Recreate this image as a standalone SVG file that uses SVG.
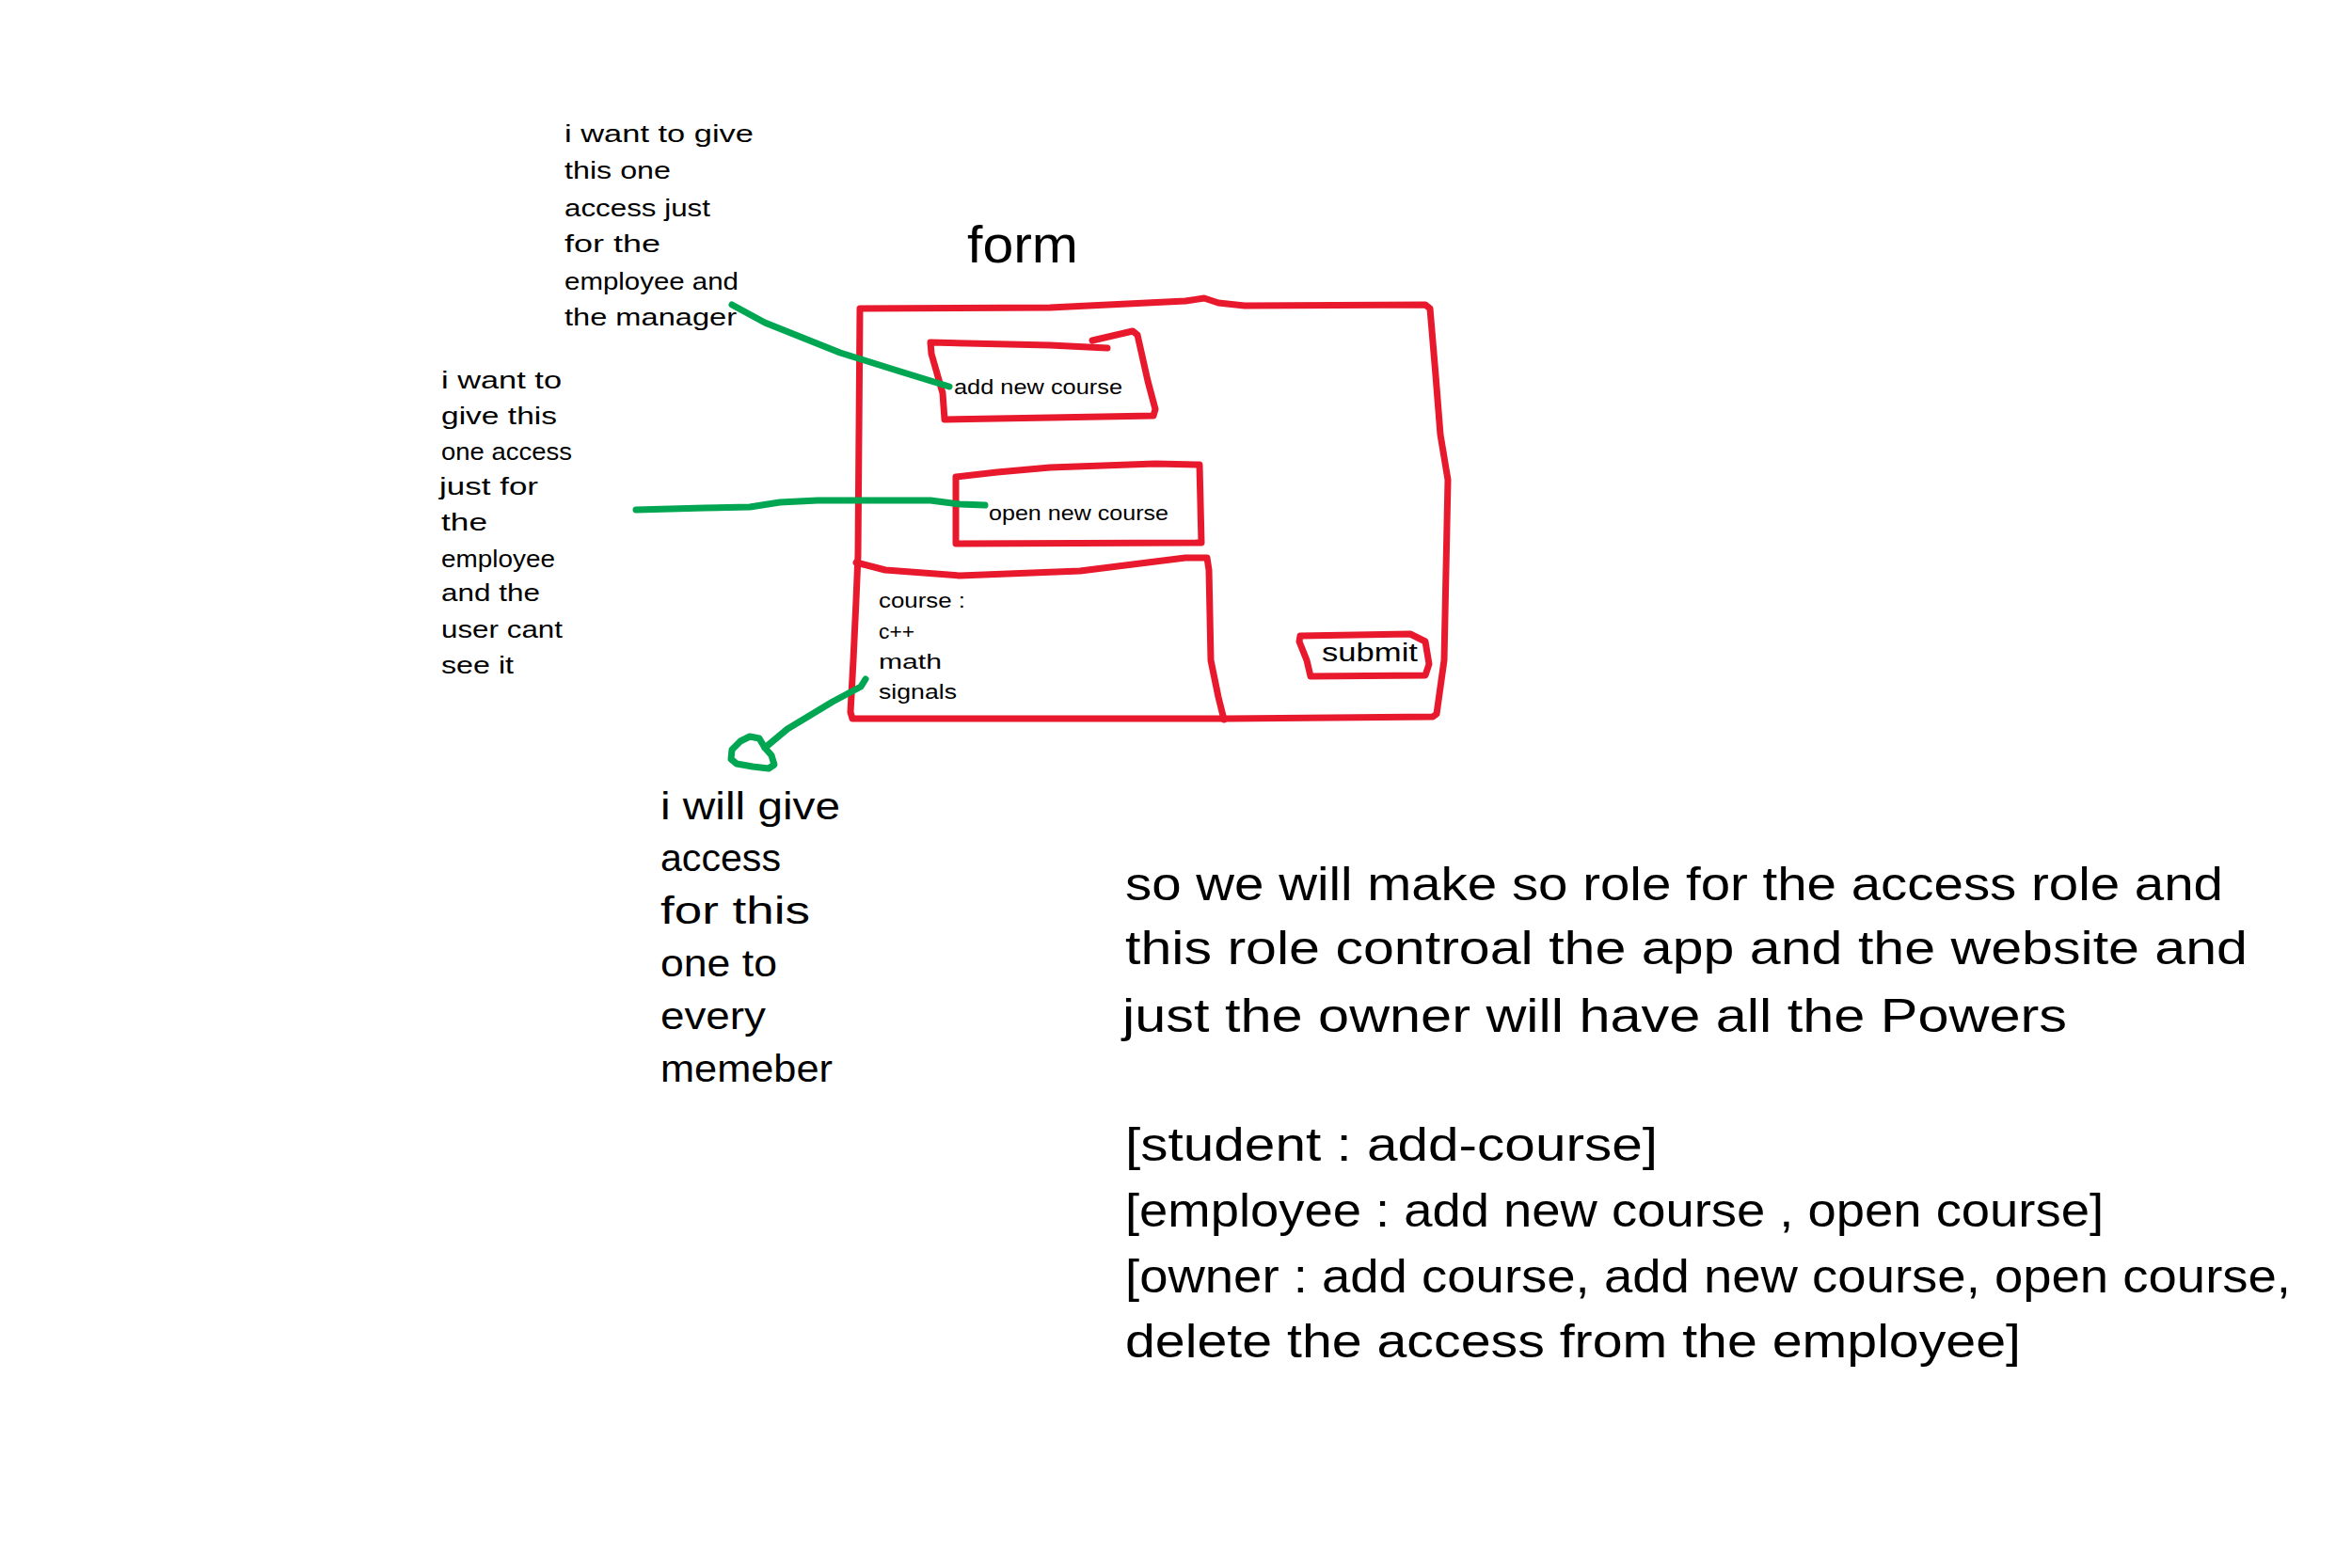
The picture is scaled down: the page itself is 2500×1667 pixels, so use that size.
<svg xmlns="http://www.w3.org/2000/svg" width="2500" height="1667" viewBox="0 0 2500 1667">
<style>
text{font-family:"Liberation Sans","DejaVu Sans",sans-serif;fill:#000}
.red{fill:none;stroke:#e8192c;stroke-width:7;stroke-linejoin:round;stroke-linecap:round}
.grn{fill:none;stroke:#00a651;stroke-width:7;stroke-linejoin:round;stroke-linecap:round}
.s{font-size:26px}
.m{font-size:40px}
.l{font-size:50px}
.t{font-size:22px}
</style>
<rect width="2500" height="1667" fill="#fff"/>
<g id="form">
<text x="1028" y="279" font-size="56" textLength="118" lengthAdjust="spacingAndGlyphs">form</text>
<path class="red" d="M914,328 L1116,327 L1260,320 L1280,317 L1295,322 L1323,325 L1515,324 L1520,328 L1526,399 L1531,462 L1539,510 L1537,606 L1535,702 L1527,759 L1523,762 L1307,764 L1020,764 L906,764 L904,757 L907,702 L910,638 L912,590 Z"/>
</g>
<g id="add-new-course">
<path class="red" d="M1177,370 L1116,367 L989,364 L990,376 L1002,418 L1004,446 L1116,444 L1226,442 L1228,435 L1220,405 L1209,356 L1204,352 L1161,362"/>
<text class="t" x="1014" y="419" textLength="179" lengthAdjust="spacingAndGlyphs">add new course</text>
</g>
<g id="open-new-course">
<path class="red" d="M1016,507 L1060,502 L1116,497 L1228,493 L1275,494 L1277,577 L1016,578 Z"/>
<text class="t" x="1051" y="553" textLength="191" lengthAdjust="spacingAndGlyphs">open new course</text>
</g>
<g id="course-list">
<path class="red" d="M910,598 L941,606 L1020,612 L1148,607 L1260,593 L1283,593 L1285,606 L1287,702 L1295,741 L1301,765"/>
<text class="t" x="934" y="646" textLength="92" lengthAdjust="spacingAndGlyphs">course :</text>
<text class="t" x="934" y="679" textLength="38" lengthAdjust="spacingAndGlyphs">c++</text>
<text class="t" x="934" y="711" textLength="67" lengthAdjust="spacingAndGlyphs">math</text>
<text class="t" x="934" y="743" textLength="83" lengthAdjust="spacingAndGlyphs">signals</text>
</g>
<g id="submit">
<path class="red" d="M1382,676 L1499,674 L1515,682 L1519,706 L1515,718 L1393,719 L1389,702 L1381,682 Z"/>
<text x="1405" y="703" font-size="27" textLength="102" lengthAdjust="spacingAndGlyphs">submit</text>
</g>
<g id="note-manager">
<text class="s" x="600" y="151" textLength="201" lengthAdjust="spacingAndGlyphs">i want to give</text>
<text class="s" x="600" y="190" textLength="113" lengthAdjust="spacingAndGlyphs">this one</text>
<text class="s" x="600" y="230" textLength="155" lengthAdjust="spacingAndGlyphs">access just</text>
<text class="s" x="600" y="268" textLength="102" lengthAdjust="spacingAndGlyphs">for the</text>
<text class="s" x="600" y="308" textLength="185" lengthAdjust="spacingAndGlyphs">employee and</text>
<text class="s" x="600" y="346" textLength="183" lengthAdjust="spacingAndGlyphs">the manager</text>
</g>
<g id="note-user">
<text class="s" x="469" y="413" textLength="128" lengthAdjust="spacingAndGlyphs">i want to</text>
<text class="s" x="469" y="451" textLength="123" lengthAdjust="spacingAndGlyphs">give this</text>
<text class="s" x="469" y="489" textLength="139" lengthAdjust="spacingAndGlyphs">one access</text>
<text class="s" x="467" y="526" textLength="105" lengthAdjust="spacingAndGlyphs">just for</text>
<text class="s" x="469" y="564" textLength="49" lengthAdjust="spacingAndGlyphs">the</text>
<text class="s" x="469" y="603" textLength="121" lengthAdjust="spacingAndGlyphs">employee</text>
<text class="s" x="469" y="639" textLength="105" lengthAdjust="spacingAndGlyphs">and the</text>
<text class="s" x="469" y="678" textLength="129" lengthAdjust="spacingAndGlyphs">user cant</text>
<text class="s" x="469" y="716" textLength="77" lengthAdjust="spacingAndGlyphs">see it</text>
</g>
<g id="note-everyone">
<text class="m" x="702" y="871" textLength="191" lengthAdjust="spacingAndGlyphs">i will give</text>
<text class="m" x="702" y="926" textLength="128" lengthAdjust="spacingAndGlyphs">access</text>
<text class="m" x="702" y="982" textLength="159" lengthAdjust="spacingAndGlyphs">for this</text>
<text class="m" x="702" y="1038" textLength="124" lengthAdjust="spacingAndGlyphs">one to</text>
<text class="m" x="702" y="1094" textLength="112" lengthAdjust="spacingAndGlyphs">every</text>
<text class="m" x="702" y="1150" textLength="183" lengthAdjust="spacingAndGlyphs">memeber</text>
</g>
<g id="roles-note">
<text class="l" x="1196" y="957" textLength="1167" lengthAdjust="spacingAndGlyphs">so we will make so role for the access role and</text>
<text class="l" x="1196" y="1025" textLength="1193" lengthAdjust="spacingAndGlyphs">this role controal the app and the website and</text>
<text class="l" x="1193" y="1097" textLength="1004" lengthAdjust="spacingAndGlyphs">just the owner will have all the Powers</text>
<text class="l" x="1196" y="1234" textLength="566" lengthAdjust="spacingAndGlyphs">[student : add-course]</text>
<text class="l" x="1196" y="1304" textLength="1040" lengthAdjust="spacingAndGlyphs">[employee : add new course , open course]</text>
<text class="l" x="1196" y="1374" textLength="1239" lengthAdjust="spacingAndGlyphs">[owner : add course, add new course, open course,</text>
<text class="l" x="1196" y="1443" textLength="952" lengthAdjust="spacingAndGlyphs">delete the access from the employee]</text>
</g>
<g id="connectors">
<path class="grn" d="M778,324 L813,343 L853,359 L893,375 L957,395 L996,407 L1009,411"/>
<path class="grn" d="M676,542 L749,540 L797,539 L829,534 L869,532 L989,532 L1020,536 L1047,537"/>
<path class="grn" d="M920,722 L915,730 L885,746 L837,775 L813,795"/>
<path class="grn" d="M807,785 L813,795 L820,803 L823,813 L817,817 L800,815 L783,812 L777,807 L778,797 L787,788 L797,783 Z"/>
</g>
</svg>
